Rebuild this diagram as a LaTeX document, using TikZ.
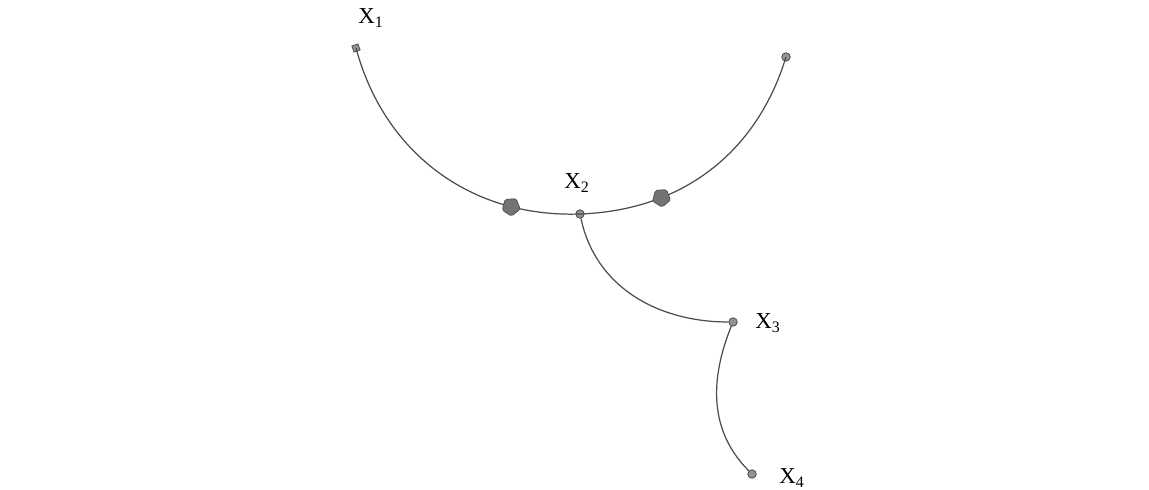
\documentclass[tikz,border=0pt]{standalone}
\usepackage{fontspec}
\setmainfont{Liberation Serif}
\usetikzlibrary{shapes.geometric,decorations.markings}

\begin{document}
\begin{tikzpicture}[
    x=0.02cm, y=0.02cm,
    dot/.style={circle, fill=gray!85, draw=gray!50!black, line width=0.4pt, inner sep=0pt, minimum size=0.17cm},
    tail/.style={rectangle, fill=gray!85, draw=gray!50!black, line width=0.4pt, inner sep=0pt, minimum size=0.13cm, rotate=20},
    head/.style={regular polygon, regular polygon sides=5, shape border rotate=-90, fill=gray!90!black, draw=gray!60!black, line width=0.4pt, inner sep=0pt, minimum size=0.38cm, rounded corners=1pt, transform shape},
    lbl/.style={font=\fontsize{13}{15}\selectfont, inner sep=0pt},
    link/.style={draw=gray!60!black, line width=0.7pt},
    flow/.style={link, decoration={markings, mark=at position #1 with {\node[head] {};}}, postaction={decorate}}
]
\useasboundingbox (0,0) rectangle (1149,490);

% Nodes
\node[tail] (x1) at (356,442) {};
\node[dot] (top) at (786,433) {};
\node[dot] (x2) at (580,276) {};
\node[dot] (x3) at (733,168) {};
\node[dot] (x4) at (752,16) {};

\node[lbl] (l1) at (371,472) {X\textsubscript{1}};
\node[lbl] (l2) at (577,307) {X\textsubscript{2}};
\node[lbl] (l3) at (768,167) {X\textsubscript{3}};
\node[lbl] (l4) at (792,12) {X\textsubscript{4}};

% Connections
\path[flow=0.77] (x1.center) to[out=-75, in=182] (x2.center);
\path[flow=0.70] (top.center) to[out=-107, in=2] (x2.center);
\path[link] (x2) to[out=-78, in=180] (x3);
\path[link] (x3) to[out=-112, in=135] (x4);

\end{tikzpicture}
\end{document}
